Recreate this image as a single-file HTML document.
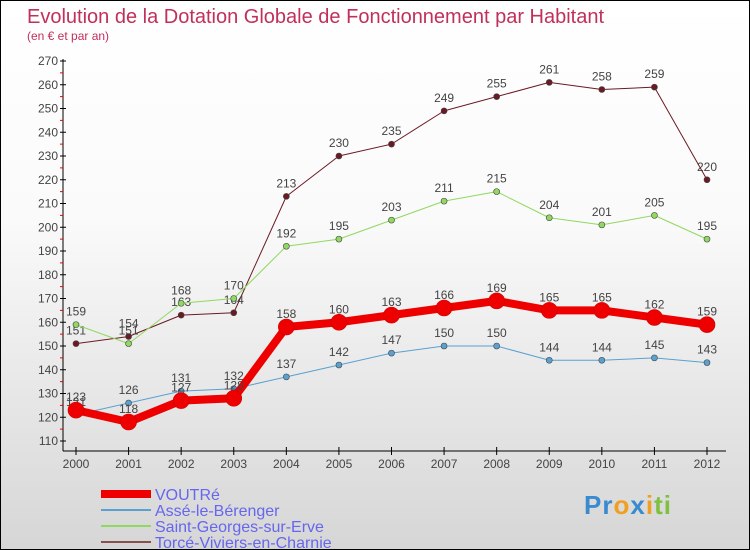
<!DOCTYPE html>
<html><head><meta charset="utf-8"><style>
body{margin:0}
#c{width:750px;height:550px;position:relative;background:linear-gradient(#fff,#fafafa 40%,#d6d6d6);box-sizing:border-box;border:1px solid #000;font-family:"Liberation Sans",sans-serif;overflow:hidden}
svg{position:absolute;left:0;top:0}
</style></head><body>
<div id="c">
<svg id="s" width="750" height="550">
<text x="26" y="22" font-size="20" fill="#c0305a">Evolution de la Dotation Globale de Fonctionnement par Habitant</text>
<text x="26" y="39" font-size="12" fill="#c0305a">(en € et par an)</text>
</svg>
<div style="position:absolute;left:583px;top:489px;font:bold 26px 'Liberation Sans',sans-serif;letter-spacing:1px"><span style="color:#3a8ad0">Pr</span><span style="color:#f0a020">o</span><span style="color:#3a8ad0">x</span><span style="color:#f0a020">i</span><span style="color:#80c040">ti</span></div>
</div>
<script>
const years=[2000,2001,2002,2003,2004,2005,2006,2007,2008,2009,2010,2011,2012];
const yTicks=[110,120,130,140,150,160,170,180,190,200,210,220,230,240,250,260,270];
const voutre=[123,118,127,128,158,160,163,166,169,165,165,162,159];
const asse=[121,126,131,132,137,142,147,150,150,144,144,145,143];
const stGeorges=[159,151,168,170,192,195,203,211,215,204,201,205,195];
const torce=[151,154,163,164,213,230,235,249,255,261,258,259,220];
const NS="http://www.w3.org/2000/svg";
const s=document.getElementById('s');
const X=i=>75+i*(706-75)/(years.length-1);
const Y=v=>440-(v-110)*380/160;
function mk(t,a,p){const e=document.createElementNS(NS,t);for(const k in a)e.setAttribute(k,a[k]);(p||s).appendChild(e);return e;}
let e=mk('line',{x1:62,y1:58,x2:62,y2:450,stroke:'#000'});


e=mk('line',{x1:62,y1:450,x2:725,y2:450,stroke:'#000'});


yTicks.forEach((v,i)=>{
  mk('line',{x1:59,x2:65,y1:Y(v),y2:Y(v),stroke:'#000'});
  if(i<yTicks.length-1)mk('line',{x1:59,x2:62,y1:Y(v+5),y2:Y(v+5),stroke:'#e00'});
  const t=mk('text',{x:57,y:Y(v)+4,'text-anchor':'end','font-size':12,fill:'#444'});t.textContent=v;
  
  
});
years.forEach((y,i)=>{
  mk('line',{x1:X(i),x2:X(i),y1:446,y2:454,stroke:'#000'});
  const t=mk('text',{x:X(i),y:467,'text-anchor':'middle','font-size':12,fill:'#444'});t.textContent=y;
  
  
});
const series=[
 {d:torce,c:'#6b1a24',w:1,r:3,n:'torce'},
 {d:stGeorges,c:'#90d860',w:1,r:3,n:'saint-georges'},
 {d:asse,c:'#5aa0d0',w:1,r:3,n:'asse'},
 {d:voutre,c:'#ee0000',w:8,r:8,n:'voutre'}];
series.forEach(sr=>{
  const g=mk('g',{});
  
  
  const p=mk('polyline',{points:sr.d.map((v,i)=>X(i)+','+Y(v)).join(' '),fill:'none',stroke:sr.c,'stroke-width':sr.w,'stroke-linejoin':'round'},g);
  
  
  sr.d.forEach((v,i)=>{
    const c=mk('circle',{cx:X(i),cy:Y(v),r:sr.r,fill:sr.c,stroke:sr.w>1?'#c00':'#444','stroke-width':0.6},g);
    
    
    const t=mk('text',{x:X(i),y:Y(v)-9,'text-anchor':'middle','font-size':12,fill:'#444'},g);t.textContent=v;
    
    
  });
});
const leg=[['VOUTRé','#ee0000',8],['Assé-le-Bérenger','#5aa0d0',2],['Saint-Georges-sur-Erve','#90d860',2],['Torcé-Viviers-en-Charnie','#8a5050',2]];
leg.forEach((l,i)=>{
  const y=493+i*16;
  const g=mk('g',{});
  
  
  mk('line',{x1:100,x2:150,y1:y,y2:y,stroke:l[1],'stroke-width':l[2]},g);
  const t=mk('text',{x:154,y:y+6,'font-size':16,fill:'#6666ee'},g);t.textContent=l[0];
});
</script>
</body></html>
